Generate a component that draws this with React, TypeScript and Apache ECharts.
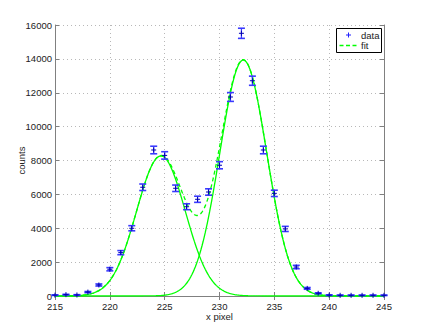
import React, { useEffect, useRef } from "react";
import * as echarts from "echarts";

// Measured data (pixel position, counts, error)
const pixels = [215, 216, 217, 218, 219, 220, 221, 222, 223, 224, 225, 226, 227, 228, 229, 230, 231, 232, 233, 234, 235, 236, 237, 238, 239, 240, 241, 242, 243, 244, 245];
const counts = [50, 80, 60, 230, 650, 1580, 2560, 4000, 6420, 8620, 8300, 6360, 5270, 5710, 6140, 7720, 11750, 15510, 12710, 8620, 6060, 3960, 1710, 450, 160, 50, 40, 40, 40, 40, 40];
const errors = [17, 21, 19, 36, 61, 95, 121, 152, 192, 223, 219, 191, 174, 181, 188, 211, 260, 299, 270, 223, 187, 151, 99, 51, 30, 17, 15, 15, 15, 15, 15];

// Fitted Gaussian parameters
const fitAmplitudes = [8270, 13930];
const fitCenters = [224.66, 232.17];
const fitSigmas = [2.22, 2.14];

// Axis ticks
const xTicks = [215, 220, 225, 230, 235, 240, 245];
const yTicks = [0, 2000, 4000, 6000, 8000, 10000, 12000, 14000, 16000];

const FONT = "'Liberation Sans', Arial, Helvetica, sans-serif";
const GREEN = "#00ff00";

function gauss(i: number, x: number) {
  const d = x - fitCenters[i];
  return fitAmplitudes[i] * Math.exp(-(d * d) / (2 * fitSigmas[i] * fitSigmas[i]));
}

export default function App() {
  const ref = useRef<HTMLDivElement>(null);
  useEffect(() => {
    if (!ref.current) return;
    const chart = echarts.init(ref.current, undefined, { renderer: "svg" });

    const xs: number[] = [];
    for (let k = 0; k <= 300; k++) xs.push(xTicks[0] + k * 0.1);
    const g1 = xs.map((x) => [x, gauss(0, x)]);
    const g2 = xs.map((x) => [x, gauss(1, x)]);
    const sum = xs.map((x) => [x, gauss(0, x) + gauss(1, x)]);
    const pts = pixels.map((p, i) => [p, counts[i], errors[i]]);

    const xMin = xTicks[0];
    const xMax = xTicks[xTicks.length - 1];
    const yMin = yTicks[0];
    const yMax = yTicks[yTicks.length - 1];

    const axisLine = { show: true, lineStyle: { color: "#808080", width: 1 } };
    const tick = { show: true, inside: true, length: 4, lineStyle: { color: "#808080" } };
    const label = { fontSize: 9.5, color: "#222", fontFamily: FONT };

    chart.setOption({
      animation: false,
      grid: { left: 55, right: 41, top: 25, bottom: 37, containLabel: false },
      xAxis: [
        {
          type: "value", min: xMin, max: xMax, interval: 5,
          axisLine, axisTick: tick,
          axisLabel: { ...label, margin: 5, formatter: (v: number) => String(v) },
          splitLine: { show: true, lineStyle: { color: "#b8b8b8", type: [1, 3], width: 1 } },
          name: "x pixel", nameLocation: "middle", nameGap: 15, nameMoveOverlap: false,
          nameTextStyle: { fontSize: 9.5, color: "#222", fontFamily: FONT },
        },
        {
          type: "value", position: "top", min: xMin, max: xMax, interval: 5,
          axisLine, axisTick: tick, axisLabel: { show: false }, splitLine: { show: false },
        },
      ],
      yAxis: [
        {
          type: "value", min: yMin, max: yMax, interval: 2000,
          axisLine, axisTick: tick,
          axisLabel: { ...label, margin: 3, formatter: (v: number) => String(v) },
          splitLine: { show: true, lineStyle: { color: "#b8b8b8", type: [1, 3], width: 1 } },
          name: "counts", nameLocation: "middle", nameGap: 29, nameMoveOverlap: false,
          nameTextStyle: { fontSize: 9.5, color: "#222", fontFamily: FONT },
        },
        {
          type: "value", position: "right", min: yMin, max: yMax, interval: 2000,
          axisLine, axisTick: tick, axisLabel: { show: false }, splitLine: { show: false },
        },
      ],
      series: [
        {
          type: "line", data: g1, showSymbol: false, symbol: "none",
          lineStyle: { color: GREEN, width: 1.3 }, z: 3,
        },
        {
          type: "line", data: g2, showSymbol: false, symbol: "none",
          lineStyle: { color: GREEN, width: 1.3 }, z: 3,
        },
        {
          type: "line", data: sum, showSymbol: false, symbol: "none",
          lineStyle: { color: GREEN, width: 1.3, type: [4, 3] }, z: 3,
        },
        {
          type: "custom", data: pts, clip: false, z: 5,
          renderItem: (params: any, api: any) => {
            const x = api.value(0);
            const y = api.value(1);
            const e = api.value(2);
            const c = api.coord([x, y]);
            const t = api.coord([x, y + e]);
            const b = api.coord([x, y - e]);
            const w = 3.5;
            const s = 2.5;
            const bar = { stroke: "#3a3aff", lineWidth: 1.2 };
            const cap = { stroke: "#3a3aff", lineWidth: 1.6 };
            const plus = { stroke: "#0000b0", lineWidth: 1 };
            return {
              type: "group",
              children: [
                { type: "line", shape: { x1: c[0], y1: t[1], x2: c[0], y2: b[1] }, style: bar },
                { type: "line", shape: { x1: c[0] - w, y1: t[1], x2: c[0] + w, y2: t[1] }, style: cap },
                { type: "line", shape: { x1: c[0] - w, y1: b[1], x2: c[0] + w, y2: b[1] }, style: cap },
                { type: "line", shape: { x1: c[0] - s, y1: c[1], x2: c[0] + s, y2: c[1] }, style: plus },
                { type: "line", shape: { x1: c[0], y1: c[1] - s, x2: c[0], y2: c[1] + s }, style: plus },
              ],
            };
          },
        },
      ],
      graphic: [
        {
          type: "group", z: 100,
          children: [
            { type: "rect", shape: { x: 336.5, y: 28.5, width: 45, height: 24 }, style: { fill: "#fff", stroke: "#000", lineWidth: 1 } },
            { type: "line", shape: { x1: 346, y1: 35, x2: 351, y2: 35 }, style: { stroke: "#2020ff", lineWidth: 1 } },
            { type: "line", shape: { x1: 348.5, y1: 32.5, x2: 348.5, y2: 37.5 }, style: { stroke: "#2020ff", lineWidth: 1 } },
            { type: "text", x: 361, y: 35, style: { text: "data", fontSize: 9.5, fontFamily: FONT, fill: "#222", verticalAlign: "middle", align: "left" } },
            { type: "line", shape: { x1: 339.5, y1: 45.5, x2: 358.5, y2: 45.5 }, style: { stroke: GREEN, lineWidth: 1.3, lineDash: [4, 2.5] } },
            { type: "text", x: 361, y: 45.5, style: { text: "fit", fontSize: 9.5, fontFamily: FONT, fill: "#222", verticalAlign: "middle", align: "left" } },
          ],
        },
      ],
    });
    return () => chart.dispose();
  }, []);
  return <div ref={ref} style={{ position: "fixed", left: 0, top: 0, width: 425, height: 333, background: "#fff" }} />;
}
